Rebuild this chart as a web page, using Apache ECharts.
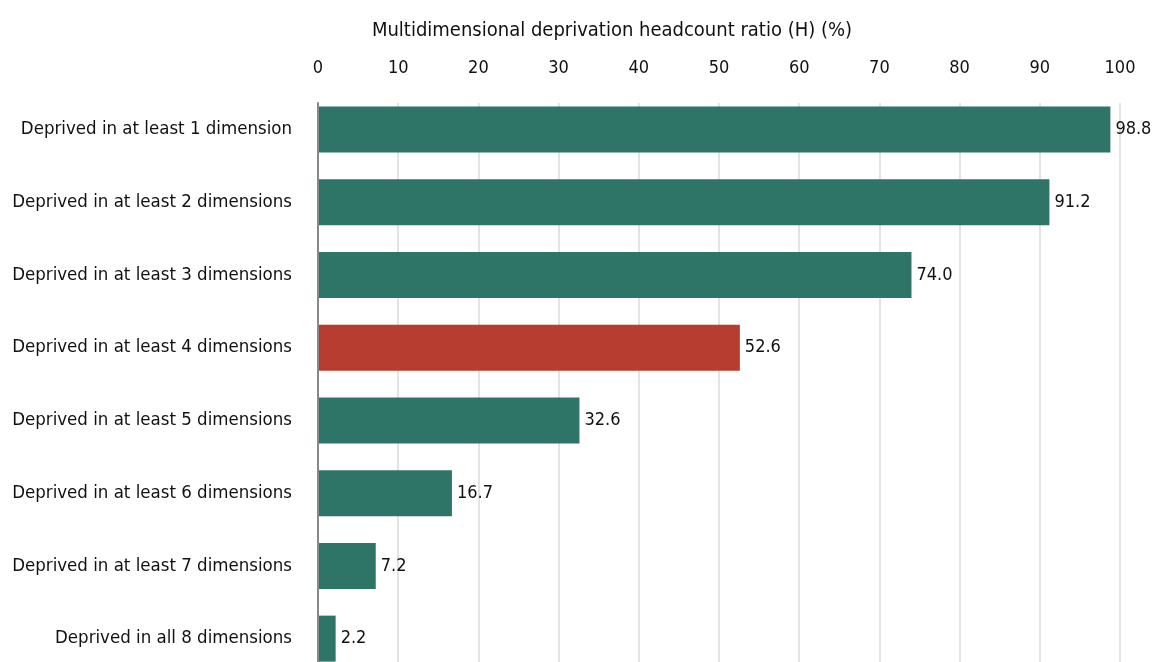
<!DOCTYPE html>
<html>
<head>
<meta charset="utf-8">
<script src="https://cdn.jsdelivr.net/npm/echarts@6/dist/echarts.min.js"></script>
<style>
  html, body { margin: 0; padding: 0; background: #fff; }
  #chart { width: 1153px; height: 662px; }
</style>
</head>
<body>
<div id="chart"></div>
<script>
var categories = [
  'Deprived in at least 1 dimension',
  'Deprived in at least 2 dimensions',
  'Deprived in at least 3 dimensions',
  'Deprived in at least 4 dimensions',
  'Deprived in at least 5 dimensions',
  'Deprived in at least 6 dimensions',
  'Deprived in at least 7 dimensions',
  'Deprived in all 8 dimensions'
];
var values = [98.8, 91.2, 74.0, 52.6, 32.6, 16.7, 7.2, 2.2];
var highlightIndex = 3;

var fontFam = '"Liberation Sans Narrow", "DejaVu Sans Condensed", "Roboto Condensed", sans-serif';

var chart = echarts.init(document.getElementById('chart'));

// grid 0 holds the bars, grid 1 only the ticks, gridlines and the left axis line
var option = {
  animation: false,
  title: {
    text: 'Multidimensional deprivation headcount ratio (H) (%)',
    left: 607,
    top: 16,
    textAlign: 'center',
    textStyle: { fontFamily: fontFam, fontSize: 20, fontWeight: 'normal', color: '#111' }
  },
  grid: [
    { left: 318, right: 33, top: 93, height: 582, outerBoundsMode: 'none' },
    { left: 318, right: 33, top: 103, bottom: 0, outerBoundsMode: 'none' }
  ],
  xAxis: [{
    gridIndex: 0,
    type: 'value',
    min: 0,
    max: 100,
    show: false
  }, {
    gridIndex: 1,
    type: 'value',
    position: 'top',
    min: 0,
    max: 100,
    interval: 10,
    axisLine: { show: false },
    axisTick: { show: false },
    axisLabel: { fontFamily: fontFam, fontSize: 18, color: '#111', margin: 26 },
    splitLine: { lineStyle: { color: '#ddd9d7', width: 1.5 } }
  }],
  yAxis: [{
    gridIndex: 0,
    type: 'category',
    inverse: true,
    data: categories,
    axisLine: { show: false },
    axisTick: { show: false },
    axisLabel: { fontFamily: fontFam, fontSize: 18.5, color: '#111', margin: 26 }
  }, {
    gridIndex: 1,
    type: 'value',
    min: 0,
    max: 1,
    z: 5,
    axisLine: { show: true, lineStyle: { color: '#888', width: 2 } },
    axisTick: { show: false },
    axisLabel: { show: false },
    splitLine: { show: false }
  }],
  series: [{
    type: 'bar',
    xAxisIndex: 0,
    yAxisIndex: 0,
    barWidth: 46,
    z: 3,
    data: values.map(function (v, i) {
      return { value: v, itemStyle: { color: i === highlightIndex ? '#b83d31' : '#2f7567' } };
    }),
    label: {
      show: true,
      position: 'right',
      distance: 5,
      formatter: function (p) { return p.value.toFixed(1); },
      fontFamily: fontFam,
      fontSize: 18,
      color: '#111'
    }
  }]
};

chart.setOption(option);
</script>
</body>
</html>
